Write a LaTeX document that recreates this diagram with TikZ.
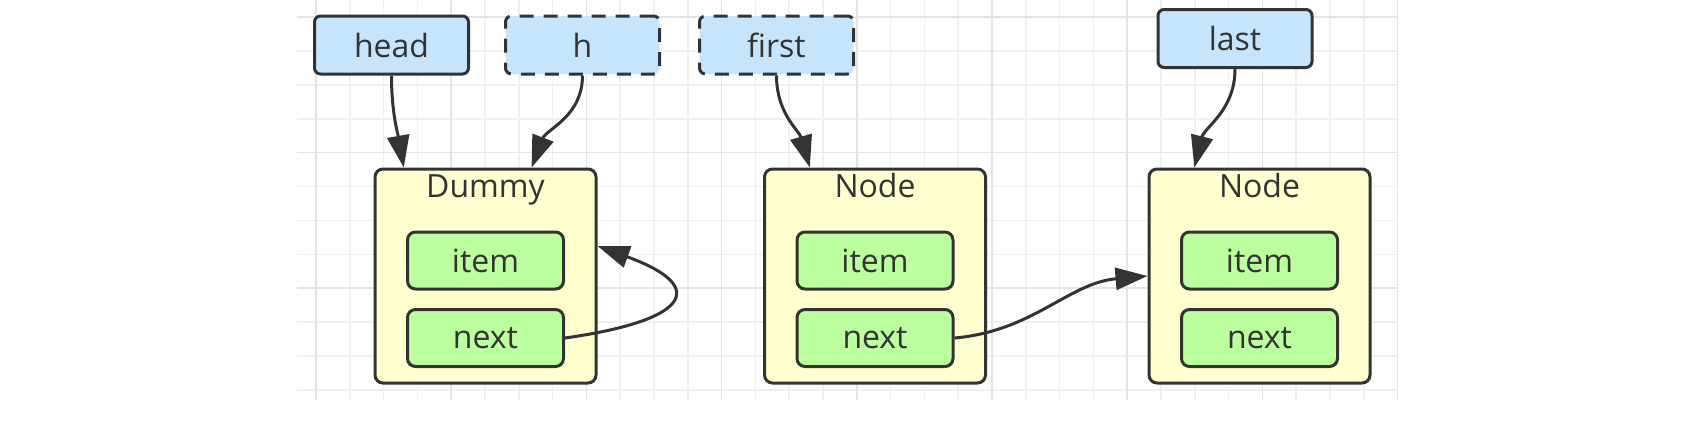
\documentclass[tikz,border=0pt]{standalone}
\usepackage{fontspec}
\setmainfont{Open Sans}
\usetikzlibrary{arrows.meta,positioning,calc}

\definecolor{ptrblue}{HTML}{C6E5FD}
\definecolor{boxyellow}{HTML}{FFFFD0}
\definecolor{fieldgreen}{HTML}{BBFF9F}
\definecolor{ink}{HTML}{333333}
\definecolor{gridminor}{HTML}{F0F0F0}
\definecolor{gridmajor}{HTML}{E4E4E4}

\begin{document}
\begin{tikzpicture}[x=0.5pt,y=0.5pt,>={Triangle[length=16pt,width=11pt]},
  font=\fontsize{16pt}{19pt}\selectfont,text=ink,
  ptr/.style={draw=ink,line width=1.5pt,fill=ptrblue,rounded corners=3pt,
    minimum width=77pt,minimum height=29pt,inner sep=0pt},
  tmpptr/.style={ptr,dash pattern=on 7pt off 5pt},
  box/.style={draw=ink,line width=1.5pt,fill=boxyellow,rounded corners=4pt,
    minimum width=110.5pt,minimum height=107pt,inner sep=0pt},
  field/.style={draw=ink,line width=1.5pt,fill=fieldgreen,rounded corners=4pt,
    minimum width=78pt,minimum height=28.5pt,inner sep=0pt},
  title/.style={anchor=base,inner sep=0pt},
  link/.style={->,draw=ink,line width=1.5pt},
  gridline/.style={draw=gridminor,line width=0.8pt},
  gridmain/.style={draw=gridmajor,line width=0.8pt}]
\useasboundingbox (0,0) rectangle (1707,-420);

% background grid
\foreach \k in {0,...,32}
  \draw[gridline] ({316+33.8*\k},0) -- ++(0,-400);
\foreach \k in {0,...,11}
  \draw[gridline] (297,{-17-33.9*\k}) -- (1397,{-17-33.9*\k});
\foreach \k in {0,4,...,32}
  \draw[gridmain] ({316+33.8*\k},0) -- ++(0,-400);
\foreach \k in {0,4,8}
  \draw[gridmain] (297,{-17-33.9*\k}) -- (1397,{-17-33.9*\k});

% pointers
\node[ptr] (head) at (391.5,-45) {head};
\node[tmpptr,right=17pt of head] (h) {h};
\node[tmpptr,right=18.5pt of h] (first) {first};
\node[ptr] (last) at (1235,-38.5) {last};

% list nodes
\node[box] (dummy) at (485.5,-276) {};
\node[title] (dummyt) at ([yshift=-15pt]dummy.north) {Dummy};
\node[field,below=31.5pt of dummy.north] (ditem) {item};
\node[field,below=8.75pt of ditem] (dnext) {next};

\node[box] (node1) at (875,-276) {};
\node[title] (node1t) at ([yshift=-15pt]node1.north) {Node};
\node[field,below=31.5pt of node1.north] (n1item) {item};
\node[field,below=8.75pt of n1item] (n1next) {next};

\node[box] (node2) at (1259.5,-276) {};
\node[title] (node2t) at ([yshift=-15pt]node2.north) {Node};
\node[field,below=31.5pt of node2.north] (n2item) {item};
\node[field,below=8.75pt of n2item] (n2next) {next};

% references
\draw[link] (head.south) to[out=-90,in=100] (dummy.127);
\draw[link] (h.south) to[out=-90,in=69] (dummy.67);
\draw[link] (first.south) to[out=-90,in=106] (node1.121);
\draw[link] (last.south) to[out=-90,in=76] (node2.121);
\draw[link] (dnext.east) to[out=8,in=-20,looseness=3.2] (dummy.15);
\draw[link] (n1next.east) to[out=5,in=185] (node2.west);
\end{tikzpicture}
\end{document}
